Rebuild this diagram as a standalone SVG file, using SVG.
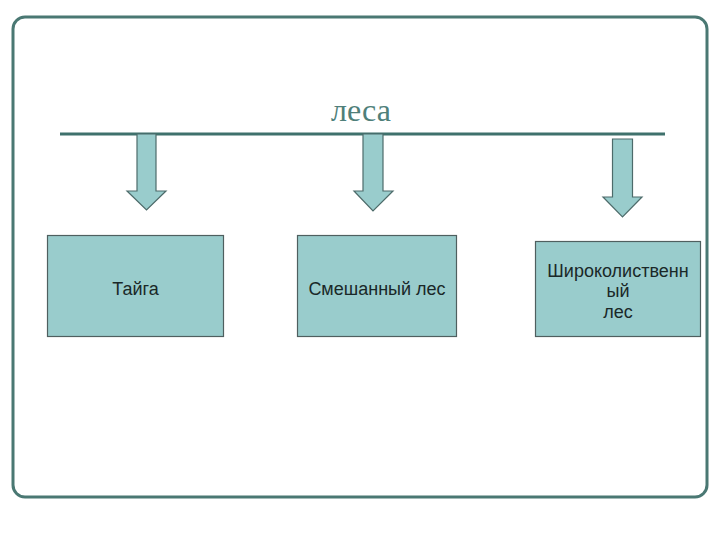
<svg xmlns="http://www.w3.org/2000/svg" width="720" height="540" viewBox="0 0 720 540">
<defs>
<style>
.frame{fill:#ffffff;stroke:#4a7873;stroke-width:3}
.bar{stroke:#3f716c;stroke-width:3}
.arrow{fill:#99cccc;stroke:#4d6b6a;stroke-width:1.2}
.box{fill:#99cccc;stroke:#4f5f5f;stroke-width:1.2}
.lbl{font-family:"Liberation Sans",Arial,sans-serif;font-size:18px;fill:#1a2828;text-anchor:middle}
.title{font-family:"Liberation Serif","Times New Roman",serif;font-size:32px;fill:#4f7f7a;text-anchor:middle}
</style>
</defs>
<rect width="720" height="540" fill="#ffffff"/>
<rect class="frame" x="13" y="17" width="694" height="480" rx="12" ry="12"/>
<text class="title" x="361" y="121">леса</text>
<g id="connectors">
<line class="bar" x1="60" y1="134" x2="665" y2="134"/>
<polygon class="arrow" points="137,134 156,134 156,191 166,191 146.5,210 127,191 137,191"/>
<polygon class="arrow" points="363,134 383,134 383,191 393,191 373,211 354,191 363,191"/>
<polygon class="arrow" points="612.5,139 632.5,139 632.5,197 642,197 622.5,217 603,197 612.5,197"/>
</g>
<g id="taiga">
<rect class="box" x="47.5" y="235.5" width="176" height="101"/>
<text class="lbl" x="135.5" y="295">Тайга</text>
</g>
<g id="mixed">
<rect class="box" x="297.5" y="235.5" width="159" height="101"/>
<text class="lbl" x="377" y="295">Смешанный лес</text>
</g>
<g id="broadleaf">
<rect class="box" x="535.5" y="241.5" width="165" height="95"/>
<text class="lbl" x="618" y="277">Широколиственн</text>
<text class="lbl" x="618" y="297">ый</text>
<text class="lbl" x="618" y="318">лес</text>
</g>
</svg>
